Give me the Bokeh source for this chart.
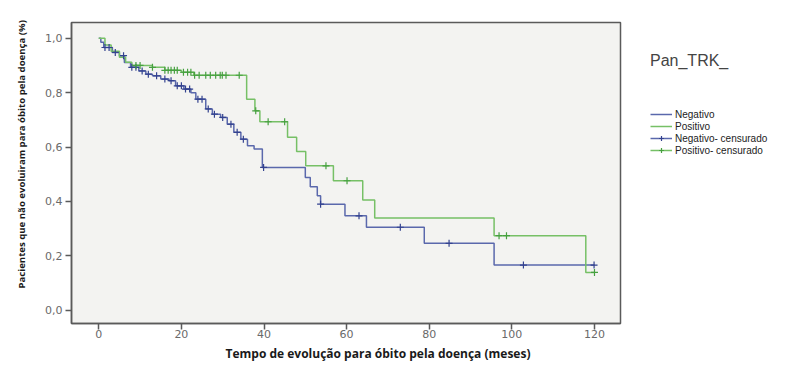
from bokeh.plotting import figure
from bokeh.models import Legend, LegendItem, FixedTicker, CustomJSTickFormatter, ColumnDataSource, Title
from bokeh.embed import file_html
from bokeh.resources import INLINE

# ---- data ----
neg_time = [0, 0.5, 1.2, 3.3, 5.0, 6.2, 7.7, 9.7, 11.4, 13.0, 15.0, 17.0, 18.6, 20.6, 22.3, 23.5,
            25.9, 27.5, 29.5, 31.1, 32.7, 34.4, 36.0, 37.6, 39.6, 50.0, 51.2, 52.9, 53.7, 59.6,
            64.8, 78.8, 95.7, 120]
neg_surv = [1.0, 0.985, 0.966, 0.948, 0.936, 0.911, 0.893, 0.880, 0.868, 0.862, 0.850, 0.844,
            0.825, 0.813, 0.800, 0.776, 0.740, 0.721, 0.709, 0.684, 0.654, 0.629, 0.605, 0.593,
            0.525, 0.488, 0.454, 0.421, 0.390, 0.347, 0.305, 0.246, 0.166, 0.166]
neg_cens = [1.5, 2.5, 4, 6, 8, 9, 10.5, 12, 14, 16, 17.5, 19, 20, 21, 22, 24, 25, 26.5, 28, 30,
            32, 33.5, 35, 39.9, 53.7, 63, 73, 84.8, 102.8, 119.9]

pos_time = [0, 1.5, 3, 5, 6.5, 8, 13, 16, 20, 23, 35.8, 37.8, 39.0, 45.7, 47.9, 50.1, 56.8,
            63.9, 66.8, 95.7, 117.9, 120]
pos_surv = [1.0, 0.975, 0.952, 0.930, 0.912, 0.900, 0.893, 0.882, 0.875, 0.864, 0.776, 0.733,
            0.693, 0.636, 0.584, 0.531, 0.476, 0.405, 0.339, 0.274, 0.139, 0.139]
pos_cens = [9, 10, 13, 16, 16.8, 17.5, 18.3, 19, 20.5, 21.5, 22.3, 23.2, 24.3, 25.9, 27, 28.3,
            29.4, 29.9, 30.8, 34, 38, 41, 45, 55, 60.1, 96.9, 98.7, 120]

x_ticks = [0, 20, 40, 60, 80, 100, 120]
y_ticks = [0.0, 0.2, 0.4, 0.6, 0.8, 1.0]

group_labels = ["Negativo", "Positivo", "Negativo- censurado", "Positivo- censurado"]
legend_title = "Pan_TRK_"
x_title = "Tempo de evolução para óbito pela doença (meses)"
y_title = "Pacientes que não evoluiram para óbito pela doença (%)"


def surv_at(times, surv, t):
    val = surv[0]
    for ti, si in zip(times, surv):
        if ti <= t:
            val = si
    return val


BLUE = "#5a68ac"
BLUE_D = "#33428f"
GREEN = "#76c066"
GREEN_D = "#46a040"

p = figure(frame_width=549, frame_height=301, x_range=(-6.6, 126.3), y_range=(-0.049, 1.058),
           output_backend="svg", toolbar_location=None,
           min_border_left=71, min_border_right=150, min_border_top=22, min_border_bottom=39)

p.background_fill_color = "#f3f3f1"
p.border_fill_color = "white"
p.outline_line_color = "#5a5a5a"
p.outline_line_width = 1.5
p.xgrid.visible = False
p.ygrid.visible = False

neg_line = p.step(neg_time, neg_surv, mode="after", line_color=BLUE, line_width=1.5)
pos_line = p.step(pos_time, pos_surv, mode="after", line_color=GREEN, line_width=1.5)

neg_src = ColumnDataSource(dict(x=neg_cens, y=[surv_at(neg_time, neg_surv, t) for t in neg_cens]))
pos_src = ColumnDataSource(dict(x=pos_cens, y=[surv_at(pos_time, pos_surv, t) for t in pos_cens]))
neg_c = p.scatter("x", "y", source=neg_src, marker="cross", size=7, line_color=BLUE_D, line_width=1.2)
pos_c = p.scatter("x", "y", source=pos_src, marker="cross", size=7, line_color=GREEN_D, line_width=1.2)

for ax in (p.xaxis[0], p.yaxis[0]):
    ax.axis_line_color = "#5a5a5a"
    ax.axis_line_width = 1.5
    ax.major_tick_line_color = "#5a5a5a"
    ax.major_tick_line_width = 1.5
    ax.major_tick_out = 6
    ax.major_tick_in = 0
    ax.minor_tick_line_color = None
    ax.major_label_text_font = "DejaVu Sans"
    ax.major_label_text_font_size = "11px"
    ax.major_label_text_color = "#6a6a6a"

p.xaxis[0].ticker = FixedTicker(ticks=x_ticks)
p.yaxis[0].ticker = FixedTicker(ticks=y_ticks)
p.yaxis[0].formatter = CustomJSTickFormatter(code="return tick.toFixed(1).replace('.', ',');")
p.xaxis[0].major_label_standoff = 0
p.yaxis[0].major_label_standoff = 3

xt = Title(text=x_title, align="left", offset=154, standoff=4,
           text_font="Open Sans", text_font_style="bold", text_font_size="12px", text_color="#1a1a1a")
p.add_layout(xt, "below")
yt = Title(text=y_title, align="left", offset=35, standoff=25, vertical_align="top",
           text_font="Open Sans", text_font_style="bold", text_font_size="9.6px", text_color="#1a1a1a")
p.add_layout(yt, "left")

legend = Legend(items=[
    LegendItem(label=group_labels[0], renderers=[neg_line]),
    LegendItem(label=group_labels[1], renderers=[pos_line]),
    LegendItem(label=group_labels[2], renderers=[neg_line, neg_c]),
    LegendItem(label=group_labels[3], renderers=[pos_line, pos_c]),
], location="top_left", title=legend_title)
legend.title_text_font = "Liberation Sans"
legend.title_text_font_size = "16px"
legend.title_text_font_style = "normal"
legend.title_text_color = "#444444"
legend.title_standoff = 38
legend.label_text_font = "Liberation Sans"
legend.label_text_font_size = "10px"
legend.label_text_color = "#222222"
legend.label_standoff = 3
legend.label_height = 12
legend.glyph_width = 22
legend.glyph_height = 12
legend.spacing = 0
legend.padding = 0
legend.margin = 30
legend.border_line_color = None
legend.background_fill_alpha = 0
p.add_layout(legend, "right")

open("out.html", "w").write(file_html(p, INLINE))
